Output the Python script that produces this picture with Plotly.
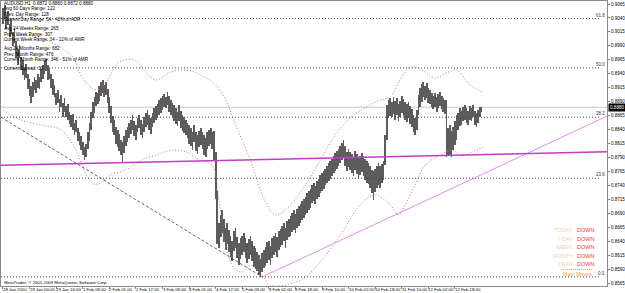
import plotly.graph_objects as go

# ---------------- DATA (prices in 1/10000, i.e. 9054 -> 0.9054) ----------------
high_pts = [9058,9063,9045,9052,9030,9038,9015,9022,8998,8985,8992,8970,8965,8950,8958,8940,8930,8918,8925,8935,
            8928,8940,8935,8948,8955,8962,8966,8955,8950,8940,8930,8920,8905,8910,8895,8902,8888,8896,8882,8885,
            8872,8866,8868,8852,8858,8842,8836,8828,8818,8808,8815,8835,8852,8872,8890,8898,8908,8905,8918,8925,
            8929,8920,8926,8912,8898,8882,8865,8858,8845,8840,8832,8822,8818,8828,8840,8845,8852,8858,8866,8855,
            8848,8860,8866,8858,8850,8862,8870,8875,8866,8860,8870,8878,8882,8886,8893,8896,8900,8904,8898,8907,
            8900,8893,8888,8884,8878,8872,8884,8874,8866,8862,8858,8852,8848,8842,8836,8848,8836,8830,8838,8842,
            8835,8830,8825,8835,8840,8843,8836,8838,8800,8730,8672,8686,8695,8680,8664,8672,8660,8650,8640,8658,
            8663,8648,8636,8645,8650,8655,8645,8636,8644,8650,8640,8632,8628,8620,8615,8608,8618,8625,8630,8638,
            8640,8632,8645,8650,8655,8648,8658,8662,8668,8672,8664,8676,8680,8685,8690,8695,8688,8698,8703,8706,
            8712,8715,8720,8726,8730,8733,8740,8745,8738,8748,8752,8758,8762,8766,8770,8775,8780,8784,8788,8793,
            8798,8802,8806,8810,8816,8821,8810,8800,8806,8800,8796,8790,8802,8796,8790,8793,8798,8792,8788,8783,
            8780,8775,8768,8765,8770,8774,8780,8774,8778,8784,8830,8884,8893,8897,8890,8898,8892,8896,8886,8892,
            8900,8895,8890,8886,8890,8882,8876,8866,8860,8875,8902,8914,8921,8925,8918,8923,8915,8910,8906,8900,
            8905,8898,8903,8907,8900,8897,8893,8893,8843,8848,8838,8845,8856,8866,8870,8878,8874,8880,8884,8878,
            8874,8882,8878,8884,8874,8870,8875,8880,8880]
low_pts = [9030,9040,9020,9028,9005,9012,8990,8996,8968,8955,8968,8946,8938,8928,8932,8912,8900,8888,8898,8910,
           8905,8915,8912,8925,8930,8940,8945,8928,8930,8915,8902,8898,8884,8888,8872,8880,8863,8872,8862,8858,
           8850,8844,8840,8830,8835,8820,8812,8804,8794,8785,8790,8805,8820,8840,8860,8870,8882,8885,8892,8900,
           8905,8898,8902,8888,8870,8852,8835,8830,8815,8808,8802,8795,8782,8798,8810,8818,8825,8832,8840,8828,
           8822,8835,8842,8830,8825,8836,8845,8848,8840,8832,8845,8852,8858,8860,8866,8870,8875,8880,8878,8884,
           8872,8866,8862,8856,8850,8846,8855,8842,8838,8833,8830,8824,8815,8810,8804,8818,8802,8796,8808,8812,
           8805,8795,8790,8806,8810,8815,8805,8786,8715,8635,8628,8648,8655,8638,8625,8635,8620,8612,8605,8622,
           8628,8610,8598,8608,8615,8620,8610,8600,8608,8615,8605,8594,8590,8586,8580,8576,8584,8592,8596,8600,
           8606,8598,8610,8615,8620,8612,8625,8630,8634,8640,8628,8642,8648,8650,8656,8660,8655,8664,8668,8672,
           8678,8682,8686,8690,8696,8700,8708,8712,8706,8716,8720,8726,8730,8734,8740,8744,8748,8752,8756,8762,
           8766,8770,8774,8780,8785,8790,8775,8766,8772,8768,8762,8756,8768,8760,8752,8758,8764,8756,8750,8745,
           8742,8735,8726,8714,8728,8736,8740,8735,8744,8750,8776,8821,8860,8864,8862,8868,8858,8866,8855,8862,
           8870,8864,8858,8854,8860,8850,8844,8836,8831,8840,8866,8880,8890,8898,8893,8896,8888,8885,8880,8876,
           8881,8872,8879,8883,8876,8872,8867,8791,8792,8795,8791,8804,8813,8822,8840,8846,8849,8855,8858,8852,
           8849,8858,8855,8862,8849,8845,8851,8862,8872]

# Bollinger-style bands (bar index, price pts)
upper_band_idx = [0,11,23,35,42,48,56,63,69,79,85,92,101,110,119,128,134,140,149,156,164,173,182,191,200,209,
                  218,227,233,239,245,252,260,268,273,281,289]
upper_band_pts = [9000,9009,9004,8986,8970,8932,8911,8929,8959,8965,8947,8929,8943,8947,8938,8920,8893,8848,
                  8785,8723,8687,8705,8741,8785,8830,8861,8879,8893,8898,8929,8952,8947,8932,8943,8947,8920,8906]
lower_band_idx = [0,11,23,35,44,50,56,65,74,83,92,101,110,119,126,130,134,139,144,149,156,161,179,191,203,215,
                  224,233,238,242,248,254,263,271,275,289]
lower_band_pts = [8875,8857,8848,8839,8803,8759,8741,8759,8768,8785,8794,8803,8800,8785,8776,8714,8633,8592,
                  8585,8597,8579,8561,8570,8603,8651,8705,8723,8705,8687,8705,8741,8776,8794,8803,8794,8809]

# Trend lines (bar index, price)
magenta_idx, magenta_price = [-1.2, 363.5], [0.8776, 0.8800]
violet_idx, violet_price = [156, 363.5], [0.8576, 0.8864]
dashed_idx, dashed_price = [-1.2, 156], [0.8862, 0.8576]

# Fibonacci
fib_low, fib_high = 0.8576, 0.9325
fib_levels = [0.0, 23.6, 38.2, 50.0, 61.8]

current_price = 0.8880

x_labels = ["28 Jan 2010", "29 Jan 00:00", "29 Jan 16:00", "1 Feb 09:00", "2 Feb 01:00", "2 Feb 17:00",
            "3 Feb 09:00", "4 Feb 01:00", "4 Feb 17:00", "5 Feb 09:00", "8 Feb 02:00", "8 Feb 18:00",
            "9 Feb 10:00", "10 Feb 02:00", "10 Feb 18:00", "11 Feb 10:00", "12 Feb 02:00", "12 Feb 18:00"]
bars_per_label = 16

y_ticks = [0.8565 + 0.0025 * k for k in range(21)]

info_lines = ["AUDUSD,H1  0.8872 0.8880 0.8872 0.8880",
              "Avg 60 Days Range: 122", "Prev. Day Range: 128", "Current Day Range: 54 - 42% of ADR",
              "Avg 24 Weeks Range: 265", "Prev. Week Range: 307", "Current Week Range: 34 - 12% of AWR",
              "Avg 24 Months Range: 682", "Prev. Month Range: 476", "Current Month Range: 346 - 51% of AMR",
              "Current Spread: 30"]
info_y_px = [3.5, 9, 14.5, 20, 29, 34.5, 40, 48.5, 54, 59.5, 69]

moves_labels = ["TODAY", "Y-DAY", "WEEK", "MONTH", "YEAR"]
moves_values = ["DOWN", "DOWN", "DOWN", "DOWN", "DOWN"]
moves_y_px = [230, 238.5, 247, 255.5, 264]

# ---------------- FIGURE ----------------
W, H = 625, 293
L, R, T, B = 0, 17, 1, 7
PW, PH = W - L - R, H - T - B

def pxx(x):
    return (x - L) / PW

def pxy(y):
    return 1 - (y - T) / PH

high = [h / 10000 for h in high_pts]
low = [l / 10000 for l in low_pts]
idx = list(range(len(high)))

fig = go.Figure()

# bands
band_line = dict(color="#de6a6a", width=1, dash="1px,2px", shape="spline")
fig.add_trace(go.Scatter(x=upper_band_idx, y=[p / 10000 for p in upper_band_pts], mode="lines",
                         line=band_line, hoverinfo="skip"))
fig.add_trace(go.Scatter(x=lower_band_idx, y=[p / 10000 for p in lower_band_pts], mode="lines",
                         line=band_line, hoverinfo="skip"))

# bars (high-low)
fig.add_trace(go.Bar(x=idx, base=low, y=[h - l for h, l in zip(high, low)], width=0.45,
                     marker=dict(color="#5c5c5c", line=dict(width=0))))

# trend lines
fig.add_trace(go.Scatter(x=dashed_idx, y=dashed_price, mode="lines",
                         line=dict(color="#505050", width=0.9, dash="3px,2px")))
fig.add_trace(go.Scatter(x=violet_idx, y=violet_price, mode="lines",
                         line=dict(color="#e08ef0", width=1)))
fig.add_trace(go.Scatter(x=magenta_idx, y=magenta_price, mode="lines",
                         line=dict(color="#c23cc8", width=1.5)))

shapes = []
# current price line
shapes.append(dict(type="line", xref="paper", x0=0, x1=1, yref="y", y0=current_price, y1=current_price,
                   line=dict(color="#c8c8c8", width=1), layer="below"))
annotations = []
for lv in fib_levels:
    p = fib_low + (fib_high - fib_low) * lv / 100
    shapes.append(dict(type="line", xref="paper", x0=0, x1=pxx(600), yref="y", y0=p, y1=p,
                       line=dict(color="#444444", width=1, dash="1px,2px")))
    annotations.append(dict(xref="paper", x=pxx(607), yref="y", y=p, text="%.1f" % lv, showarrow=False,
                            xanchor="right", yanchor="bottom", font=dict(size=4.5, color="#333333",
                            family="Liberation Sans"), borderpad=0))

# main moves dotted line
shapes.append(dict(type="line", xref="paper", x0=pxx(562), x1=pxx(594), yref="paper", y0=pxy(269.5), y1=pxy(269.5),
                   line=dict(color="#f0a040", width=1, dash="1px,1px")))

for t, yp in zip(info_lines, info_y_px):
    annotations.append(dict(xref="paper", x=pxx(2), yref="paper", y=pxy(yp), text=t, showarrow=False,
                            xanchor="left", yanchor="middle", font=dict(size=4.6, color="#000000",
                            family="Liberation Sans"), borderpad=0))

for lab, val, yp in zip(moves_labels, moves_values, moves_y_px):
    annotations.append(dict(xref="paper", x=pxx(575), yref="paper", y=pxy(yp), text=lab, showarrow=False,
                            xanchor="right", yanchor="middle", font=dict(size=5.5, color="#f7cfae",
                            family="Liberation Sans"), borderpad=0))
    annotations.append(dict(xref="paper", x=pxx(577), yref="paper", y=pxy(yp), text=val, showarrow=False,
                            xanchor="left", yanchor="middle", font=dict(size=5.5, color="#f03a3a",
                            family="Liberation Sans"), borderpad=0))
annotations.append(dict(xref="paper", x=pxx(563), yref="paper", y=pxy(274), text="Main Moves", showarrow=False,
                        xanchor="left", yanchor="middle", font=dict(size=5.3, color="#f0a040",
                        family="Liberation Sans"), borderpad=0))

annotations.append(dict(xref="paper", x=pxx(2), yref="paper", y=pxy(282.5),
                        text="MetaTrader, © 2001-2009 MetaQuotes Software Corp.", showarrow=False,
                        xanchor="left", yanchor="middle", font=dict(size=4.3, color="#000000",
                        family="Liberation Sans"), borderpad=0))

# x labels
for k, lab in enumerate(x_labels):
    annotations.append(dict(xref="x", x=k * bars_per_label, yref="paper", y=pxy(289.8), text=lab, showarrow=False,
                            xanchor="left", yanchor="middle", font=dict(size=4.3, color="#000000",
                            family="Liberation Sans"), borderpad=0, xshift=-1))

# current price box
annotations.append(dict(xref="paper", x=1, yref="y", y=current_price, text="0.8880", showarrow=False,
                        xanchor="left", yanchor="middle", bgcolor="#000000",
                        font=dict(size=4.6, color="#ffffff", family="Liberation Sans"), borderpad=1, xshift=1))

x0 = -1.2
x1 = x0 + PW / 1.667
p_per_px = 0.0025 / 13.95
y_top = 0.9065 + (4 - T) * p_per_px
y_bot = y_top - PH * p_per_px

fig.update_layout(
    width=W, height=H, margin=dict(l=L, r=R, t=T, b=B),
    paper_bgcolor="white", plot_bgcolor="white", showlegend=False, bargap=0,
    shapes=shapes, annotations=annotations,
    xaxis=dict(range=[x0, x1], showgrid=False, zeroline=False, showline=True, mirror=True,
               linecolor="#8a8a8a", linewidth=1, tickvals=[k * bars_per_label for k in range(len(x_labels))],
               showticklabels=False, ticks="outside", ticklen=2, tickcolor="#8a8a8a"),
    yaxis=dict(range=[y_bot, y_top], side="right", showgrid=False, zeroline=False, showline=True, mirror=True,
               linecolor="#8a8a8a", linewidth=1, tickvals=y_ticks, ticktext=["%.4f" % v for v in y_ticks],
               ticks="outside", ticklen=2, tickcolor="#8a8a8a",
               tickfont=dict(size=4.5, color="#000000", family="Liberation Sans")),
)

fig.write_html("out.html")
